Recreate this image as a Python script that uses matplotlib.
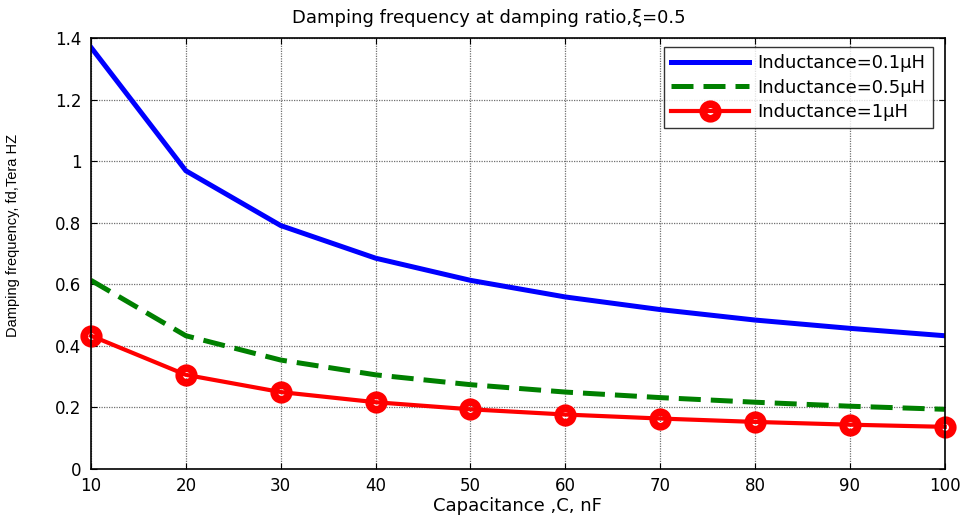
import numpy as np
import matplotlib
matplotlib.use('Agg')
import matplotlib.pyplot as plt

# capacitance in nF and damping frequency (Tera HZ) for each inductance
capacitance = [10, 20, 30, 40, 50, 60, 70, 80, 90, 100]
fd_01uH = [1.370, 0.969, 0.791, 0.685, 0.613, 0.559, 0.518, 0.484, 0.457, 0.433]
fd_05uH = [0.613, 0.433, 0.354, 0.306, 0.274, 0.250, 0.232, 0.217, 0.204, 0.194]
fd_1uH = [0.433, 0.306, 0.250, 0.217, 0.194, 0.177, 0.164, 0.153, 0.144, 0.137]

labels = ['Inductance=0.1\u03bcH', 'Inductance=0.5\u03bcH', 'Inductance=1\u03bcH']

plt.rcParams['font.family'] = ['DejaVu Sans']

fig = plt.figure(figsize=(9.68, 5.15), dpi=100)
ax = fig.add_axes([0.094, 0.0893, 0.882, 0.8367])

ax.plot(capacitance, fd_01uH, color='#0000ff', lw=3.6, label=labels[0])
ax.plot(capacitance, fd_05uH, color='#008000', lw=3.6, ls=(0, (4.4, 2.0)), label=labels[1])
# open circles with a thick edge; the line shows through the small hole
ax.plot(capacitance, fd_1uH, color='#ff0000', lw=3.0, marker='o', ms=10.5,
        mfc='none', mec='#ff0000', mew=5.5, label=labels[2], clip_on=False)

ax.set_xlim(10, 100)
ax.set_ylim(0, 1.4)
ax.set_xticks(np.arange(10, 101, 10))
ax.set_yticks(np.arange(0, 1.41, 0.2))
ax.set_yticklabels(['0', '0.2', '0.4', '0.6', '0.8', '1', '1.2', '1.4'])

ax.grid(True, color='#707070', lw=0.9, ls=(0, (1, 1)))
ax.tick_params(direction='in', top=True, right=True, length=4, labelsize=12)
ax.tick_params(axis='x', pad=6)
ax.tick_params(axis='y', pad=7)
for s in ax.spines.values():
    s.set_linewidth(1.2)

ax.set_xlabel('Capacitance ,C, nF', fontsize=13, labelpad=1)
ax.set_ylabel('Damping frequency, fd,Tera HZ', fontsize=10.5,
              family=['Liberation Sans'])
ax.yaxis.set_label_coords(-(91 - 20) / 854, (469 - 235) / 431)
fig.text(489 / 968, 1 - 18 / 515, 'Damping frequency at damping ratio,\u03be=0.5',
         ha='center', va='center', fontsize=13)

leg = ax.legend(loc='upper right', bbox_to_anchor=(933 / 968, 1 - 47 / 515),
                bbox_transform=fig.transFigure, fontsize=13, frameon=True,
                fancybox=False, edgecolor='black', borderaxespad=0, handlelength=4.3,
                handletextpad=0.5, labelspacing=0.36, borderpad=0.4)
leg.get_frame().set_linewidth(1.0)

fig.savefig('out.png', dpi=100)
